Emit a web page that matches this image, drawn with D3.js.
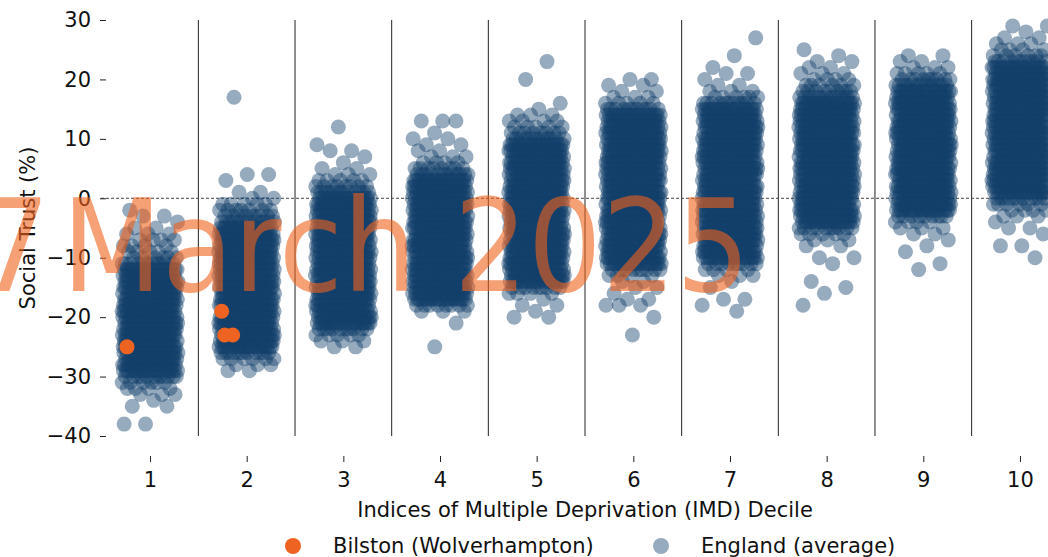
<!DOCTYPE html>
<html>
<head>
<meta charset="utf-8">
<script src="https://cdn.jsdelivr.net/npm/d3@7"></script>
<style>
  body { margin: 0; background: #fff; }
  svg { display: block; }
  text { font-family: "DejaVu Sans", sans-serif; }
</style>
</head>
<body>
<script>
const w = 1048, h = 557;

// IMD deciles on the x axis
const deciles = [1, 2, 3, 4, 5, 6, 7, 8, 9, 10];
const yTicks = [30, 20, 10, 0, -10, -20, -30, -40];

// England (average): number of areas at each whole % of social trust,
// listed from the highest value in each decile downwards, one step per 1%
const englandTop = [-2, 17, 12, 13, 23, 20, 27, 25, 24, 29];
const englandCounts = [
  [1,2,1,2,3,4,4,5,6,11, 20,20,20,20,20,20,20,20,20,20,20,20,20,20,20,20,20,20, 11,6,4,3,1,2,0,0,2],
  [1, 0,0,0,0,0,0,0,0,0,0,0,0, 2,1,0,2,2,5,7,9,12, 20,20,20,20,20,20,20,20,20,20,20,20,20,20,20,20,20,20,20,20,20, 11,6,3,2],
  [1,0,0,1,2,1,1,2,3,5,8,12, 20,20,20,20,20,20,20,20,20,20,20,20,20,20,20,20,20,20,20,20,20,20, 10,5,3,2],
  [3,0,1,2,2,2,3,4,8,12, 20,20,20,20,20,20,20,20,20,20,20,20,20,20,20,20,20,20,20,20,20, 8,3,0,1,0,0,0,1],
  [1,0,0,1,0,0,0,1,1,3,4,5,8,12, 20,20,20,20,20,20,20,20,20,20,20,20,20,20,20,20,20,20,20,20,20,20,20,20, 9,4,1,2,1,2],
  [2,2,2,3,5,11, 20,20,20,20,20,20,20,20,20,20,20,20,20,20,20,20,20,20,20,20,20,20,20,20,20,20, 9,4,2,2,1,2,3,0,1,0,0,1],
  [1,0,0,1,0,1,2,1,2,3,6,11, 20,20,20,20,20,20,20,20,20,20,20,20,20,20,20,20,20,20,20,20,20,20,20,20,20,20, 9,4,3,1,1,0,2,1,1],
  [1,1,2,2,3,4,6,9,13, 20,20,20,20,20,20,20,20,20,20,20,20,20,20,20,20,20,20,20,20,20, 10,5,3,2,0,2,1,0,0,1,1,1,0,1],
  [2,2,3,5,9,13, 20,20,20,20,20,20,20,20,20,20,20,20,20,20,20,20,20,20,20,20,20, 9,4,3,2,1,1,1,0,1,1],
  [2,1,2,3,4,6,11, 20,20,20,20,20,20,20,20,20,20,20,20,20,20,20,20,20,20,20,20,20,20, 11,6,4,3,1,2,1,0,2,0,1]
];

// Bilston (Wolverhampton)
const bilstonDecile = [1, 2, 2, 2];
const bilstonTrust = [-25, -19, -23, -23];

const x = d3.scaleLinear().domain([0.5, 10.5]).range([101.7, 1068.3]);
const y = d3.scaleLinear().domain([-40, 30]).range([436, 20]);

// stripplot jitter (fixed, low discrepancy)
const jitter = (k, seed) => ((k * 0.6180339887 + seed * 0.137) % 1 - 0.5) * 56;

const england = [];
deciles.forEach((d, i) => {
  let k = 0;
  englandCounts[i].forEach((c, j) => {
    for (let n = 0; n < c; n++) {
      england.push({decile: d, trust: englandTop[i] - j, k: k++});
    }
  });
});

const svg = d3.select('body').append('svg')
  .attr('width', w).attr('height', h);

// decile separators
svg.append('g').selectAll('line')
  .data(deciles.slice(0, -1))
  .enter().append('line')
  .attr('x1', d => x(d + 0.5)).attr('x2', d => x(d + 0.5))
  .attr('y1', y(30)).attr('y2', y(-40))
  .attr('stroke', '#222').attr('stroke-width', 1);

// zero line
svg.append('line')
  .attr('x1', 101).attr('x2', w)
  .attr('y1', y(0)).attr('y2', y(0))
  .attr('stroke', '#444').attr('stroke-width', 1)
  .attr('stroke-dasharray', '3,2');

svg.append('g').selectAll('circle')
  .data(england)
  .enter().append('circle')
  .attr('cx', d => x(d.decile) + jitter(d.k, d.decile))
  .attr('cy', d => y(d.trust))
  .attr('r', 7.5)
  .attr('fill', '#123f6c')
  .attr('fill-opacity', 0.44);

svg.append('g').selectAll('circle')
  .data(bilstonTrust)
  .enter().append('circle')
  .attr('cx', (d, i) => x(bilstonDecile[i]) + [-23, -25, -22, -14][i])
  .attr('cy', d => y(d))
  .attr('r', 7.5)
  .attr('fill', '#ef6322');

// axes
const yAxis = svg.append('g')
  .attr('transform', 'translate(106,0)')
  .call(d3.axisLeft(y).tickValues(yTicks).tickSize(6).tickPadding(9));
yAxis.select('.domain').remove();

const xAxis = svg.append('g')
  .attr('transform', 'translate(0,456)')
  .call(d3.axisBottom(x).tickValues(deciles).tickSize(6).tickPadding(10));
xAxis.select('.domain').remove();

svg.selectAll('.tick line').attr('stroke', '#222');
svg.selectAll('.tick text')
  .attr('font-family', '"DejaVu Sans", sans-serif')
  .attr('font-size', 21).attr('fill', '#111');

svg.append('text')
  .attr('x', 585).attr('y', 517)
  .attr('text-anchor', 'middle')
  .attr('font-size', 21).attr('fill', '#111')
  .text('Indices of Multiple Deprivation (IMD) Decile');

svg.append('text')
  .attr('transform', 'translate(35,228) rotate(-90)')
  .attr('text-anchor', 'middle')
  .attr('font-size', 21).attr('fill', '#111')
  .text('Social Trust (%)');

// legend
const legend = [
  {label: 'Bilston (Wolverhampton)', color: '#ef6322', opacity: 1, cx: 293},
  {label: 'England (average)', color: '#123f6c', opacity: 0.44, cx: 661}
];
const lg = svg.append('g').selectAll('g').data(legend).enter().append('g');
lg.append('circle')
  .attr('cx', d => d.cx).attr('cy', 546).attr('r', 8)
  .attr('fill', d => d.color).attr('fill-opacity', d => d.opacity);
lg.append('text')
  .attr('x', d => d.cx + 40).attr('y', 553)
  .attr('font-size', 21).attr('fill', '#111')
  .text(d => d.label);

// date watermark
const mark = svg.append('text')
  .attr('transform', 'translate(-24,291) scale(0.91,1)')
  .attr('font-family', '"Liberation Sans", Arial, sans-serif')
  .attr('font-size', 128)
  .attr('fill', '#f0601a').attr('fill-opacity', 0.6);
mark.append('tspan').text('7');
mark.append('tspan').attr('dx', -28).text(' March 2025');
</script>
</body>
</html>
